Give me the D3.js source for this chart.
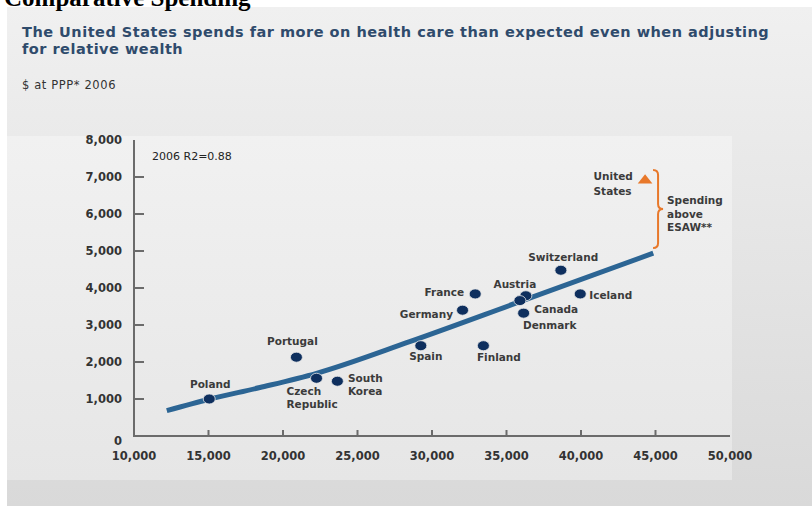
<!DOCTYPE html>
<html>
<head>
<meta charset="utf-8">
<script src="https://cdn.jsdelivr.net/npm/d3@7"></script>
<style>
  body { margin: 0; background: #fff; }
  .tick-label { font-family: "DejaVu Sans", sans-serif; font-weight: bold; font-size: 11.5px; fill: #333; }
  .country { font-family: "DejaVu Sans", sans-serif; font-weight: bold; font-size: 10.5px; fill: #3b3b3b; }
</style>
</head>
<body>
<div id="chart"></div>
<script>
const width = 812, height = 506;

// plot frame in page pixels
const plot = { left: 134, right: 730, top: 140, bottom: 436 };

// x: GDP per capita ($ at PPP), y: health care spending per capita
const countries = ['Poland', 'Portugal', 'Czech Republic', 'South Korea', 'Spain', 'Finland',
                   'Germany', 'France', 'Austria', 'Canada', 'Denmark', 'Switzerland', 'Iceland'];
const gdp   = [15050, 20900, 22250, 23650, 29250, 33450, 32050, 32900, 36300, 35900, 36150, 38650, 39950];
const spend = [1000, 2130, 1560, 1480, 2440, 2440, 3400, 3840, 3790, 3660, 3320, 4480, 3840];

const usName = 'United States';
const usGdp = 44300, usSpend = 6920;

// estimated spending according to wealth (trend line)
const trendGdp   = [12200, 15050, 18450, 22250, 28500, 35900, 44850];
const trendSpend = [ 684,   992,  1310,  1695,  2550,  3630,  4940];

// brace: from just above the US point down to the end of the trend
const braceTop = 7190, braceBottom = 5080;

const xTicks = [10000, 15000, 20000, 25000, 30000, 35000, 40000, 45000, 50000];
const yTicks = [0, 1000, 2000, 3000, 4000, 5000, 6000, 7000, 8000];

const titleLines = ['The United States spends far more on health care than expected even when adjusting',
                    'for relative wealth'];
const unitNote = '$ at PPP* 2006';
const r2Note = '2006 R2=0.88';
const braceLines = ['Spending', 'above', 'ESAW**'];

// label placement relative to each dot (layout, not data)
const labelPlace = {
    'Poland':         { anchor: 'middle', dx: 1,   dy: [-15] },
    'Portugal':       { anchor: 'middle', dx: -4,  dy: [-16] },
    'Czech Republic': { anchor: 'start',  dx: -30, dy: [12.5, 26], lines: ['Czech', 'Republic'] },
    'South Korea':    { anchor: 'start',  dx: 10.5, dy: [-3.5, 10], lines: ['South', 'Korea'] },
    'Spain':          { anchor: 'middle', dx: 5,   dy: [10.5] },
    'Finland':        { anchor: 'start',  dx: -6.5, dy: [11.5] },
    'Germany':        { anchor: 'end',    dx: -9.5, dy: [3.3] },
    'France':         { anchor: 'end',    dx: -11, dy: [-2.3] },
    'Austria':        { anchor: 'middle', dx: -11, dy: [-12] },
    'Canada':         { anchor: 'start',  dx: 14.3, dy: [8.3] },
    'Denmark':        { anchor: 'start',  dx: -0.6, dy: [12] },
    'Switzerland':    { anchor: 'middle', dx: 2.3, dy: [-13.3] },
    'Iceland':        { anchor: 'start',  dx: 9,   dy: [0.7] }
};

const xScale = d3.scaleLinear().domain([10000, 50000]).range([plot.left, plot.right]);
const yScale = d3.scaleLinear().domain([0, 8000]).range([plot.bottom, plot.top]);
const fmt = d3.format(',');

const svg = d3.select('#chart').append('svg')
    .attr('width', width)
    .attr('height', height);

const defs = svg.append('defs');
const g1 = defs.append('linearGradient').attr('id', 'panelGrad')
    .attr('x1', 0).attr('y1', 0).attr('x2', 0).attr('y2', 1);
g1.append('stop').attr('offset', '0%').attr('stop-color', '#f0f0f0');
g1.append('stop').attr('offset', '100%').attr('stop-color', '#d9d9d9');
const g2 = defs.append('linearGradient').attr('id', 'innerGrad')
    .attr('x1', 0).attr('y1', 0).attr('x2', 0).attr('y2', 1);
g2.append('stop').attr('offset', '0%').attr('stop-color', '#f1f1f1');
g2.append('stop').attr('offset', '100%').attr('stop-color', '#e6e6e6');

// background panel
svg.append('rect')
    .attr('x', 7).attr('y', 7)
    .attr('width', width - 7).attr('height', height - 7)
    .attr('fill', 'url(#panelGrad)');
svg.append('rect')
    .attr('x', 7).attr('y', 136)
    .attr('width', 725).attr('height', 344)
    .attr('fill', 'url(#innerGrad)');

// cut-off slide heading at the very top
svg.append('text')
    .attr('x', 4).attr('y', 6)
    .style('font-family', '"Liberation Serif", serif')
    .style('font-weight', 'bold')
    .style('font-size', '25px')
    .attr('fill', '#000')
    .text('Comparative Spending');

// chart title
const title = svg.append('text')
    .style('font-family', '"DejaVu Sans", sans-serif')
    .style('font-weight', 'bold')
    .style('font-size', '14.5px')
    .style('letter-spacing', '0.5px')
    .attr('fill', '#2f4b6c');
title.selectAll('tspan')
    .data(titleLines)
    .enter()
    .append('tspan')
    .attr('x', 22)
    .attr('y', (d, i) => 37 + i * 17)
    .text(d => d);

svg.append('text')
    .attr('x', 22).attr('y', 89)
    .style('font-family', '"DejaVu Sans", sans-serif')
    .style('font-size', '11.5px')
    .style('letter-spacing', '0.6px')
    .attr('fill', '#333')
    .text(unitNote);

// axes
const axisColor = '#6b6b6b';
svg.append('line')
    .attr('x1', xScale(10000)).attr('x2', xScale(10000))
    .attr('y1', yScale(8000)).attr('y2', yScale(0))
    .attr('stroke', axisColor).attr('stroke-width', 2);
svg.append('line')
    .attr('x1', xScale(10000) - 1).attr('x2', xScale(50000))
    .attr('y1', yScale(0)).attr('y2', yScale(0))
    .attr('stroke', axisColor).attr('stroke-width', 2);

svg.append('g').selectAll('line')
    .data(yTicks.filter(d => d > 0 && d < 8000))
    .enter().append('line')
    .attr('x1', xScale(10000)).attr('x2', xScale(10000) + 10)
    .attr('y1', d => yScale(d)).attr('y2', d => yScale(d))
    .attr('stroke', axisColor).attr('stroke-width', 2);

svg.append('g').selectAll('line')
    .data(xTicks.filter(d => d > 10000 && d < 50000))
    .enter().append('line')
    .attr('x1', d => xScale(d)).attr('x2', d => xScale(d))
    .attr('y1', yScale(0)).attr('y2', yScale(0) - 6)
    .attr('stroke', axisColor).attr('stroke-width', 2);

svg.append('g').selectAll('text')
    .data(yTicks)
    .enter().append('text')
    .attr('class', 'tick-label')
    .attr('x', 122)
    .attr('y', d => yScale(d) + (d === 0 ? 4.5 : 0))
    .attr('text-anchor', 'end')
    .attr('dominant-baseline', 'central')
    .text(d => fmt(d));

svg.append('g').selectAll('text')
    .data(xTicks)
    .enter().append('text')
    .attr('class', 'tick-label')
    .attr('x', d => xScale(d))
    .attr('y', 456)
    .attr('text-anchor', 'middle')
    .attr('dominant-baseline', 'central')
    .text(d => fmt(d));

svg.append('text')
    .attr('x', 152).attr('y', 156)
    .attr('dominant-baseline', 'central')
    .style('font-family', '"DejaVu Sans", sans-serif')
    .style('font-size', '11px')
    .attr('fill', '#222')
    .text(r2Note);

// trend line
const trend = trendGdp.map((x, i) => [x, trendSpend[i]]);
svg.append('path')
    .datum(trend)
    .attr('fill', 'none')
    .attr('stroke', '#2c6594')
    .attr('stroke-width', 5)
    .attr('d', d3.line()
        .x(d => xScale(d[0]))
        .y(d => yScale(d[1]))
        .curve(d3.curveMonotoneX));

// country dots
const points = countries.map((c, i) => ({ name: c, x: gdp[i], y: spend[i] }));
svg.append('g').selectAll('ellipse')
    .data(points)
    .enter().append('ellipse')
    .attr('cx', d => xScale(d.x))
    .attr('cy', d => yScale(d.y))
    .attr('rx', 6)
    .attr('ry', 5)
    .attr('fill', '#0e2f5e')
    .attr('stroke', '#e8e8e8')
    .attr('stroke-width', 0.8);

const labels = svg.append('g');
points.forEach(p => {
    const lp = labelPlace[p.name];
    const lines = lp.lines || [p.name];
    const t = labels.append('text')
        .attr('class', 'country')
        .attr('text-anchor', lp.anchor)
        .attr('dominant-baseline', 'central');
    lines.forEach((ln, j) => {
        t.append('tspan')
            .attr('x', xScale(p.x) + lp.dx)
            .attr('y', yScale(p.y) + lp.dy[j])
            .text(ln);
    });
});

// United States marker
const orange = '#e8782a';
const usX = xScale(usGdp), usY = yScale(usSpend);
svg.append('path')
    .attr('d', d3.symbol().type(d3.symbolTriangle).size(70))
    .attr('transform', 'translate(' + usX + ',' + (usY + 0.5) + ') scale(1.15,0.85)')
    .attr('fill', orange);
const usText = svg.append('text')
    .attr('class', 'country')
    .attr('dominant-baseline', 'central');
usName.split(' ').forEach((ln, j) => {
    usText.append('tspan')
        .attr('x', usX - 51.5)
        .attr('y', usY + (j === 0 ? -4 : 10.7))
        .text(ln);
});

// brace
const bTop = yScale(braceTop), bBot = yScale(braceBottom);
const bMid = (bTop + bBot) / 2;
const bx = xScale(usGdp) + 13;
const brace = d3.path();
brace.moveTo(bx - 5, bTop);
brace.quadraticCurveTo(bx, bTop, bx, bTop + 5);
brace.lineTo(bx, bMid - 5);
brace.quadraticCurveTo(bx, bMid, bx + 5, bMid);
brace.quadraticCurveTo(bx, bMid, bx, bMid + 5);
brace.lineTo(bx, bBot - 5);
brace.quadraticCurveTo(bx, bBot, bx - 5, bBot);
svg.append('path')
    .attr('d', brace.toString())
    .attr('fill', 'none')
    .attr('stroke', orange)
    .attr('stroke-width', 2);

const bt = svg.append('text')
    .attr('class', 'country')
    .attr('dominant-baseline', 'central');
braceLines.forEach((ln, j) => {
    bt.append('tspan')
        .attr('x', bx + 9)
        .attr('y', bMid - 9 + j * 13.7)
        .text(ln);
});
</script>
</body>
</html>
